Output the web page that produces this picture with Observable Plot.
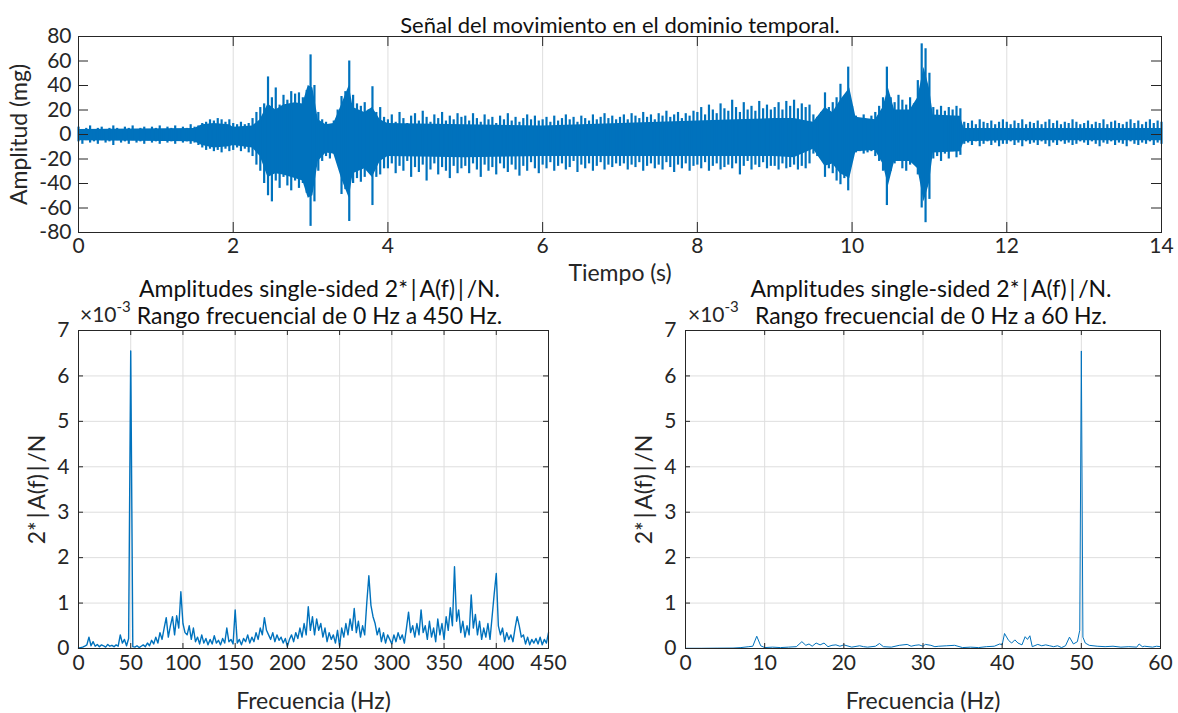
<!DOCTYPE html>
<html>
<head>
<meta charset="utf-8">
<script src="https://cdn.jsdelivr.net/npm/d3@7"></script>
<script src="https://cdn.jsdelivr.net/npm/@observablehq/plot@0.6"></script>
<style>
  html, body { margin: 0; padding: 0; background: #fff; }
  #wrap { position: relative; width: 1178px; height: 713px; overflow: hidden; font-family: Lato, "Open Sans", sans-serif; color: #262626; }
  #wrap svg { position: absolute; left: 0; top: 0; }
  .exp { position: absolute; font-size: 21px; color: #262626; }
  .exp sup { font-size: 15px; position: relative; top: -2px; }
</style>
</head>
<body>
<div id="wrap"></div>
<script>
// ---------------- DATA ----------------
// Top panel: extremes (spikes) of the time signal, every 0.05 s from 0 to 14 s (mg)
const sigUpper = [
  6,4,5,7,4,5,6,4,5,7,5,4,6,5,7,4,5,6,4,6,
  5,7,4,6,5,7,4,6,5,8,6,7,9,10,12,11,13,12,10,12,
  9,8,10,8,9,13,18,22,25,47,30,38,24,32,28,35,33,34,30,36,
  65,40,18,12,10,8,11,20,31,35,60,32,25,23,26,20,39,18,22,14,
  12,16,10,18,13,9,15,17,11,19,14,10,16,13,18,11,15,12,17,14,
  15,11,17,13,10,16,12,14,9,15,12,17,11,14,10,13,16,12,15,11,
  12,14,10,15,11,13,16,12,14,10,15,13,11,16,12,14,17,13,15,12,
  14,16,12,17,15,13,18,14,16,12,17,15,19,14,16,18,13,17,15,19,
  18,22,16,24,20,17,25,21,19,28,22,18,26,20,23,19,27,21,24,20,
  22,26,20,27,23,28,21,25,22,24,16,14,18,34,22,26,30,41,28,55,
  23,15,13,16,12,15,18,23,30,55,30,26,32,28,24,30,25,44,74,70,
  50,22,20,23,19,22,20,23,21,10,9,11,8,12,10,9,11,8,10,12,
  10,8,11,9,12,8,10,9,11,8,10,12,9,11,8,10,9,12,10,8,
  9,11,8,10,9,12,8,10,11,9,8,10,12,9,11,8,10,12,9,11,10
];
const sigLower = [
  -6,-8,-5,-7,-6,-8,-5,-7,-6,-9,-5,-7,-6,-8,-5,-7,-6,-8,-5,-7,
  -6,-8,-5,-7,-6,-8,-5,-7,-6,-8,-7,-9,-11,-13,-12,-14,-13,-15,-12,-14,
  -13,-11,-14,-12,-15,-18,-25,-30,-40,-50,-55,-38,-44,-35,-42,-46,-38,-44,-40,-48,
  -75,-55,-30,-22,-18,-20,-16,-22,-49,-45,-71,-40,-36,-39,-35,-30,-58,-35,-33,-28,
  -28,-24,-32,-26,-30,-22,-35,-27,-31,-25,-38,-29,-24,-33,-27,-30,-36,-26,-32,-28,
  -26,-32,-24,-29,-35,-25,-30,-27,-33,-24,-28,-31,-25,-29,-34,-26,-30,-23,-28,-32,
  -25,-28,-23,-30,-26,-24,-29,-27,-22,-31,-25,-28,-24,-30,-26,-23,-29,-25,-27,-24,
  -26,-24,-29,-25,-27,-23,-30,-26,-24,-28,-25,-29,-23,-27,-31,-25,-28,-24,-30,-26,
  -25,-28,-23,-30,-26,-24,-29,-27,-25,-28,-24,-33,-26,-22,-29,-25,-27,-23,-28,-26,
  -26,-29,-24,-28,-27,-25,-29,-26,-28,-24,-16,-18,-20,-35,-28,-32,-38,-41,-36,-46,
  -19,-15,-14,-16,-15,-14,-18,-22,-30,-58,-30,-24,-22,-28,-30,-25,-22,-33,-60,-72,
  -53,-20,-18,-22,-16,-20,-14,-19,-17,-8,-7,-9,-6,-10,-8,-6,-9,-7,-10,-8,
  -8,-6,-9,-7,-10,-6,-8,-7,-9,-6,-8,-10,-7,-9,-6,-8,-7,-9,-8,-6,
  -7,-9,-6,-8,-10,-7,-8,-6,-9,-7,-8,-10,-6,-8,-9,-7,-8,-6,-9,-7,-8
];
const timeStep = 0.05;
// Top panel: dense core of the signal (time in s, limits in mg)
const coreTime  = [0, 1.5, 1.6, 1.75, 1.95, 2.0, 2.25, 2.35, 2.45, 2.55, 2.65, 2.8, 2.9, 2.97, 3.03, 3.1, 3.2, 3.3, 3.4, 3.5,
  3.55, 3.7, 3.8, 3.9, 4.0, 5.0, 6.0, 7.0, 8.0, 8.5, 9.0, 9.25, 9.5, 9.65, 9.75, 9.85, 9.97, 10.05, 10.3, 10.4,
  10.47, 10.55, 10.75, 10.85, 10.93, 11.0, 11.05, 11.4, 11.45, 12, 13, 14];
const coreUpper = [4, 5, 8, 9, 8, 6, 7, 12, 25, 20, 24, 26, 25, 40, 38, 12, 8, 9, 24, 40,
  22, 18, 22, 12, 9, 8, 7, 9, 11, 12, 13, 13, 10, 22, 18, 28, 38, 14, 12, 22,
  38, 20, 20, 30, 55, 38, 16, 15, 5, 5, 5, 5];
const coreLower = [-5, -6, -9, -11, -10, -9, -11, -18, -35, -32, -33, -36, -38, -52, -50, -22, -15, -16, -36, -52,
  -32, -28, -35, -22, -18, -19, -18, -18, -18, -18, -18, -19, -12, -26, -24, -32, -36, -14, -13, -24,
  -42, -22, -22, -28, -55, -40, -15, -14, -6, -5, -5, -5];

// Bottom-left: single-sided spectrum 0-450 Hz, every 2 Hz (x 1e-3)
const specFull = [
  0.01,0.02,0.03,0.05,0.08,0.25,0.06,0.15,0.05,0.09,0.04,0.08,0.06,0.03,0.09,0.05,0.07,0.04,0.08,0.05,0.3,0.12,0.2,0.06,0.22,
  6.55,0.04,0.03,0.06,0.02,0.05,0.08,0.04,0.12,0.06,0.18,0.1,0.25,0.12,0.35,0.2,0.45,0.68,0.25,0.5,0.7,0.3,0.72,0.45,1.25,
  0.55,0.35,0.3,0.5,0.2,0.45,0.15,0.25,0.1,0.3,0.12,0.22,0.08,0.2,0.1,0.28,0.12,0.18,0.08,0.22,0.12,0.45,0.15,0.2,0.1,
  0.85,0.12,0.2,0.08,0.22,0.15,0.3,0.12,0.25,0.15,0.35,0.2,0.45,0.3,0.68,0.4,0.3,0.2,0.35,0.15,0.3,0.18,0.25,0.12,0.22,
  0.05,0.2,0.3,0.15,0.35,0.22,0.45,0.25,0.55,0.3,0.92,0.4,0.7,0.3,0.65,0.4,0.55,0.25,0.45,0.15,0.35,0.2,0.3,0.12,0.4,
  0.05,0.45,0.25,0.55,0.3,0.65,0.4,0.88,0.35,0.6,0.25,0.5,0.3,1.0,1.6,0.95,0.7,0.55,0.3,0.45,0.15,0.35,0.12,0.3,0.2,
  0.1,0.3,0.15,0.35,0.2,0.3,0.12,0.45,0.8,0.35,0.5,0.25,0.55,0.3,0.85,0.35,0.5,0.2,0.6,0.25,0.45,0.15,0.65,0.3,0.55,
  0.2,0.7,0.4,0.9,0.5,1.8,0.6,0.85,0.35,0.6,0.25,0.5,0.3,1.18,0.45,0.75,0.3,0.6,0.2,0.45,0.25,0.55,0.2,0.7,1.2,
  1.65,0.5,0.3,0.45,0.15,0.35,0.2,0.3,0.15,0.45,0.7,0.5,0.25,0.3,0.1,0.25,0.08,0.2,0.12,0.22,0.1,0.25,0.08,0.2,0.12,
  0.35
];
const specFullStep = 2;

// Bottom-right: spectrum 0-60 Hz (x 1e-3)
const freqZoom = [0,2,4,6,7,8,8.5,9,9.5,10,
  11,12,13,14,14.7,15.2,15.6,16,16.5,17,
  17.5,18,18.5,19,19.5,20,21,22,22.5,23,
  24,24.5,25,26,27,28,28.5,29,29.5,30,
  30.3,31,31.5,32,33,34,35,36,37,38,
  39,39.7,40,40.3,40.8,41.2,41.6,42,42.5,42.9,
  43.2,43.5,43.8,44.5,45,45.5,46,46.5,47,47.5,
  48,48.5,49,49.5,49.8,50,50.2,50.5,51,52,
  53,54,55,56,57,57.3,57.7,58,59,59.5,
  60];
const ampZoom = [0.005,0.005,0.008,0.01,0.02,0.04,0.05,0.27,0.06,0.02,
  0.03,0.02,0.03,0.04,0.15,0.07,0.1,0.05,0.12,0.08,
  0.12,0.04,0.07,0.08,0.05,0.08,0.03,0.06,0.04,0.03,
  0.05,0.11,0.04,0.03,0.07,0.09,0.05,0.07,0.08,0.05,
  0.09,0.07,0.04,0.05,0.06,0.07,0.02,0.03,0.02,0.04,
  0.05,0.1,0.08,0.33,0.18,0.12,0.19,0.12,0.08,0.26,
  0.2,0.28,0.04,0.09,0.06,0.08,0.06,0.04,0.06,0.02,
  0.06,0.25,0.1,0.15,0.4,6.55,0.25,0.12,0.07,0.05,
  0.04,0.05,0.03,0.04,0.03,0.1,0.04,0.05,0.03,0.05,
  0.04];

// Text & ticks
const titleTop = "Señal del movimiento en el dominio temporal.";
const titleLeft = "Amplitudes single-sided 2*\u2009|\u2009A(f)\u2009|\u2009/N.\nRango frecuencial de 0 Hz a 450 Hz.";
const titleRight = "Amplitudes single-sided 2*\u2009|\u2009A(f)\u2009|\u2009/N.\nRango frecuencial de 0 Hz a 60 Hz.";
const labelTime = "Tiempo (s)";
const labelAmp = "Amplitud (mg)";
const labelFreq = "Frecuencia (Hz)";
const labelSpec = "2*\u2009|\u2009A(f)\u2009|\u2009/N";
const ticksTime = [0,2,4,6,8,10,12,14];
const ticksAmp = [-80,-60,-40,-20,0,20,40,60,80];
const ticksFreqFull = [0,50,100,150,200,250,300,350,400,450];
const ticksFreqZoom = [0,10,20,30,40,50,60];
const ticksSpec = [0,1,2,3,4,5,6,7];

// ---------------- BUILD ----------------
const W = 1178, H = 713;
const BLUE = "#0072BD", AX = "#262626", GRID = "#dedede";
const FONT = "Lato, 'Open Sans', sans-serif";

const sigData = sigUpper.map((u, i) => ({t: +(i * timeStep).toFixed(2), hi: u, lo: sigLower[i]}));
const coreData = coreTime.map((t, i) => ({t, hi: coreUpper[i], lo: coreLower[i]}));
const fullData = specFull.map((v, i) => ({f: i * specFullStep, a: v}));
const zoomData = freqZoom.map((f, i) => ({f, a: ampZoom[i]}));

function boxTicks(xt, yt, innerW, innerH, len) {
  return [
    Plot.tickX(xt, {x: d => d, insetTop: innerH - len, stroke: AX}),
    Plot.tickX(xt, {x: d => d, insetBottom: innerH - len, stroke: AX}),
    Plot.tickY(yt, {y: d => d, insetRight: innerW - len, stroke: AX}),
    Plot.tickY(yt, {y: d => d, insetLeft: innerW - len, stroke: AX})
  ];
}

function panel(o) {
  const innerW = W - o.ml - o.mr, innerH = H - o.mt - o.mb;
  const marks = [];
  if (o.gridY) marks.push(Plot.gridY(o.yt, {stroke: GRID, strokeOpacity: 1}));
  marks.push(Plot.gridX(o.xt, {stroke: GRID, strokeOpacity: 1}));
  marks.push(...o.data);
  marks.push(Plot.frame({stroke: AX, strokeWidth: 1}));
  marks.push(...boxTicks(o.xt, o.yt, innerW, innerH, o.tickLen));
  marks.push(Plot.axisX({ticks: o.xt, tickSize: 0, tickPadding: o.xpad, tickFormat: d => String(d), fontSize: 21, label: null}));
  marks.push(Plot.axisX({ticks: [], label: o.xlabel, labelAnchor: "center", labelArrow: "none", labelOffset: o.xlabOff, fontSize: 23}));
  marks.push(Plot.axisY({ticks: o.yt, tickSize: 0, tickPadding: o.ypad, tickFormat: d => String(d), fontSize: 21, label: null}));
  marks.push(Plot.axisY({ticks: [], label: o.ylabel, labelAnchor: "center", labelArrow: "none", labelOffset: o.ylabOff, fontSize: 23}));
  marks.push(Plot.text([o.title], {frameAnchor: "top", lineAnchor: "bottom", dy: o.titleDy, dx: o.titleDx || 0,
    fontSize: o.titleSize || 22, fill: "#111", lineHeight: 1.15}));
  return Plot.plot({
    width: W, height: H,
    marginLeft: o.ml, marginRight: o.mr, marginTop: o.mt, marginBottom: o.mb,
    x: {domain: o.xd, label: null}, y: {domain: o.yd, label: null},
    style: {background: "transparent", fontFamily: FONT, fontSize: "21px", color: AX, overflow: "visible"},
    marks
  });
}

const wrap = document.getElementById("wrap");

wrap.appendChild(panel({
  ml: 78, mr: 17, mt: 36, mb: 481,
  xd: [0, 14], yd: [-80, 80], xt: ticksTime, yt: ticksAmp, gridY: false, tickLen: 10,
  xpad: 6, ypad: 7, xlabel: labelTime, ylabel: labelAmp, xlabOff: 48, ylabOff: 68,
  title: titleTop, titleDy: -4, titleSize: 22,
  data: [
    Plot.areaY(coreData, {x: "t", y1: "lo", y2: "hi", fill: BLUE}),
    Plot.ruleX(sigData, {x: "t", y1: "lo", y2: "hi", stroke: BLUE, strokeWidth: 2.2})
  ]
}));

wrap.appendChild(panel({
  ml: 78, mr: 630, mt: 330, mb: 65,
  xd: [0, 450], yd: [0, 7], xt: ticksFreqFull, yt: ticksSpec, gridY: true, tickLen: 5,
  xpad: 7, ypad: 9, xlabel: labelFreq, ylabel: labelSpec, xlabOff: 60, ylabOff: 50,
  title: titleLeft, titleDy: -7, titleDx: 6, titleSize: 23,
  data: [Plot.line(fullData, {x: "f", y: "a", stroke: BLUE, strokeWidth: 1.4})]
}));

wrap.appendChild(panel({
  ml: 685, mr: 18, mt: 330, mb: 65,
  xd: [0, 60], yd: [0, 7], xt: ticksFreqZoom, yt: ticksSpec, gridY: true, tickLen: 5,
  xpad: 7, ypad: 9, xlabel: labelFreq, ylabel: labelSpec, xlabOff: 60, ylabOff: 50,
  title: titleRight, titleDy: -7, titleDx: 8, titleSize: 23,
  data: [Plot.line(zoomData, {x: "f", y: "a", stroke: BLUE, strokeWidth: 1})]
}));

// exponent labels (x10^-3)
for (const left of [80, 688]) {
  const d = document.createElement("div");
  d.className = "exp";
  d.style.left = left + "px";
  d.style.top = "299px";
  d.innerHTML = "×10<sup>-3</sup>";
  wrap.appendChild(d);
}
</script>
</body>
</html>
